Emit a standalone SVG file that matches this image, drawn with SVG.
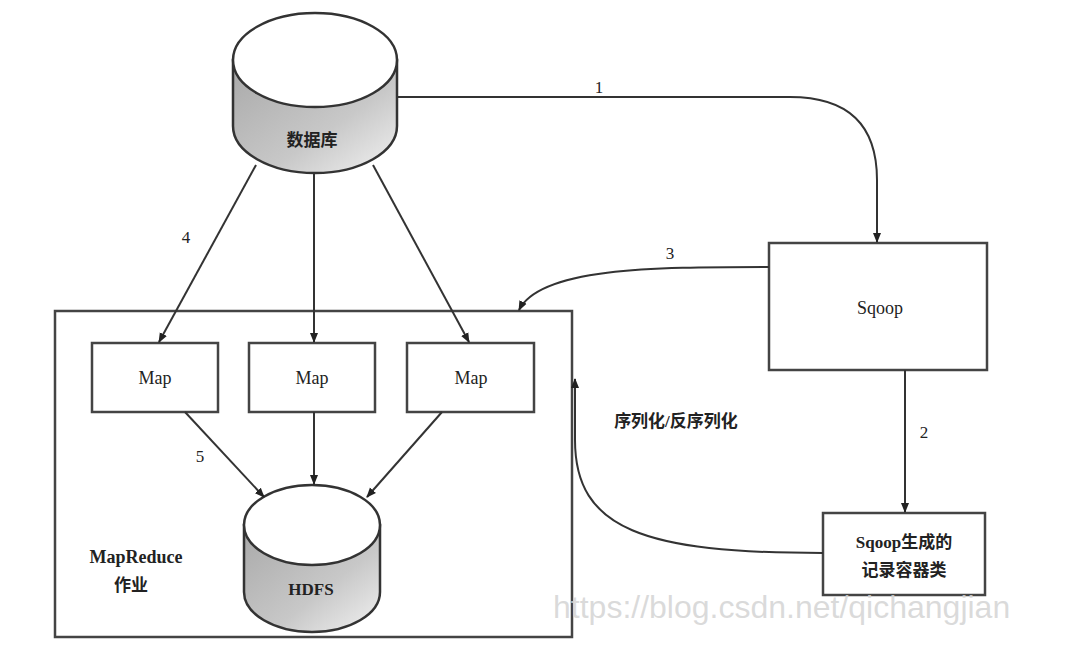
<svg xmlns="http://www.w3.org/2000/svg" width="1084" height="648" viewBox="0 0 1084 648">
<style>
.ln{fill:none;stroke:#333;stroke-width:2}
.bx{fill:#fff;stroke:#444;stroke-width:2.5}
.t{font-family:"Liberation Serif","Noto Sans CJK SC",serif;fill:#222;font-size:18px;text-anchor:middle}
.c{font-family:"Liberation Serif","Noto Sans CJK SC",serif;fill:#222;font-size:17px;font-weight:bold;text-anchor:middle}
.n{font-family:"Liberation Serif",serif;fill:#222;font-size:17px;text-anchor:middle}
</style>
<defs>
<marker id="ar" viewBox="0 0 10 10" refX="9" refY="5" markerWidth="5" markerHeight="5" orient="auto"><path d="M0,1 L10,5 L0,9 z" fill="#222"/></marker>
<linearGradient id="g" x1="0" y1="0" x2="1" y2="1">
<stop offset="0" stop-color="#a8a8a8"/><stop offset="0.6" stop-color="#c8c8c8"/><stop offset="1" stop-color="#f2f2f2"/>
</linearGradient>
</defs>
<rect width="1084" height="648" fill="#fff"/>

<g id="mapreduce">
<rect class="bx" x="55" y="311" width="517" height="326"/>
<text class="t" x="136" y="563" font-weight="bold" font-size="17">MapReduce</text>
<text class="c" x="131" y="591">作业</text>
</g>

<g id="db">
<path d="M233,60 L233,126 A82,47 0 0 0 397,126 L397,60 Z" fill="url(#g)" stroke="#333" stroke-width="2.5"/>
<ellipse cx="315" cy="60" rx="82" ry="47" fill="#fff" stroke="#333" stroke-width="2.5"/>
<text class="c" x="312" y="146">数据库</text>
</g>

<g id="sqoop">
<rect class="bx" x="769" y="243" width="218" height="127"/>
<text class="t" x="880" y="314">Sqoop</text>
</g>

<g id="record">
<rect class="bx" x="823" y="513" width="162" height="82"/>
<text class="c" x="904" y="548">Sqoop生成的</text>
<text class="c" x="904" y="576">记录容器类</text>
</g>

<g id="map1"><rect class="bx" x="92" y="343" width="126" height="69"/><text class="t" x="155" y="384">Map</text></g>
<g id="map2"><rect class="bx" x="249" y="343" width="126" height="69"/><text class="t" x="312" y="384">Map</text></g>
<g id="map3"><rect class="bx" x="407" y="343" width="127" height="69"/><text class="t" x="471" y="384">Map</text></g>

<g id="hdfs">
<path d="M244,525 L244,592 A68,40 0 0 0 380,592 L380,525 Z" fill="url(#g)" stroke="#333" stroke-width="2.5"/>
<ellipse cx="312" cy="525" rx="68" ry="40" fill="#fff" stroke="#333" stroke-width="2.5"/>
<text class="c" x="311" y="595">HDFS</text>
</g>

<g id="connectors">
<path class="ln" marker-end="url(#ar)" d="M397,97 L790,97 Q877,97 877,180 L877,242"/>
<path class="ln" marker-end="url(#ar)" d="M769,267 C650,267 540,268 519,310"/>
<path class="ln" marker-end="url(#ar)" d="M905,370 L905,512"/>
<path class="ln" marker-end="url(#ar)" d="M823,553 C645,553 575,530 575,440 L575,379"/>
<path class="ln" marker-end="url(#ar)" d="M256,165 L159,342"/>
<path class="ln" marker-end="url(#ar)" d="M314,173 L314,342"/>
<path class="ln" marker-end="url(#ar)" d="M373,165 L469,342"/>
<path class="ln" marker-end="url(#ar)" d="M185,412 L264,497"/>
<path class="ln" marker-end="url(#ar)" d="M314,412 L314,484"/>
<path class="ln" marker-end="url(#ar)" d="M442,412 L367,497"/>
</g>

<g id="labels">
<text class="n" x="599" y="93">1</text>
<text class="n" x="924" y="438">2</text>
<text class="n" x="670" y="259">3</text>
<text class="n" x="186" y="243">4</text>
<text class="n" x="200" y="462">5</text>
<text class="c" x="676" y="427">序列化/反序列化</text>
</g>

<text x="553" y="618" font-family="Liberation Sans,Arial,sans-serif" font-size="32" fill="#d4d4d4" fill-opacity="0.85">https://blog.csdn.net/qichangjian</text>
</svg>
